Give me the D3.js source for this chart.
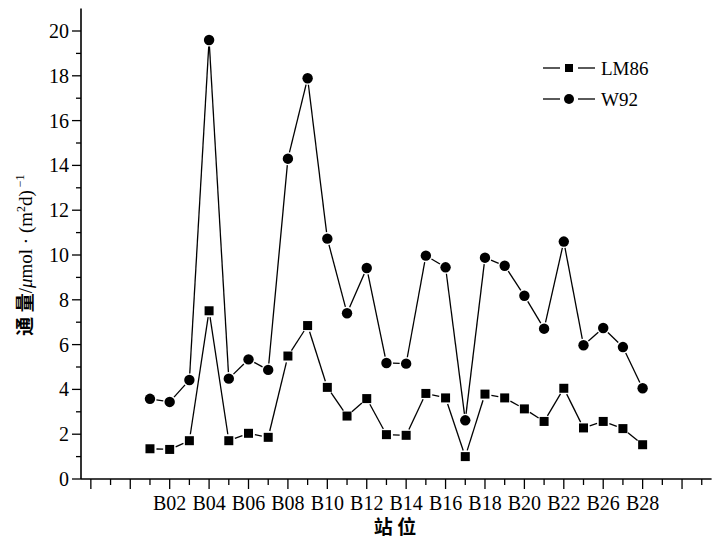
<!DOCTYPE html>
<html>
<head>
<meta charset="utf-8">
<script src="https://cdn.jsdelivr.net/npm/d3@7"></script>
<style>
  body { margin: 0; background: #fff; }
</style>
</head>
<body>
<div id="chart"></div>
<script>
// stations (B23/B24 missing in the survey)
var stations = ["B01","B02","B03","B04","B05","B06","B07","B08","B09","B10","B11","B12","B13",
  "B14","B15","B16","B17","B18","B19","B20","B21","B22","B25","B26","B27","B28"];
var lm86 = [1.35,1.32,1.71,7.51,1.71,2.04,1.86,5.49,6.85,4.09,2.81,3.59,1.98,
  1.95,3.82,3.62,1.00,3.79,3.62,3.13,2.57,4.05,2.28,2.57,2.25,1.53];
var w92 = [3.58,3.44,4.42,19.6,4.48,5.34,4.87,14.3,17.89,10.73,7.40,9.42,5.18,
  5.15,9.97,9.45,2.62,9.88,9.52,8.18,6.71,10.6,5.97,6.74,5.89,4.05];
var xLabels = ["B02","B04","B06","B08","B10","B12","B14","B16","B18","B20","B22","B26","B28"];
var yTicks = [0,2,4,6,8,10,12,14,16,18,20];

var W = 715, H = 539;
var slotOffset = 3, nSlots = 32;
var serif = "Liberation Serif, Tinos, Times New Roman, DejaVu Serif, Noto Serif, serif";
var cjk = "Noto Sans CJK SC, Noto Sans CJK JP, sans-serif";

var svg = d3.select("#chart").append("svg")
  .attr("width", W).attr("height", H)
  .attr("font-family", serif);

var x = d3.scaleLinear().domain([-0.5, nSlots - 0.5]).range([81, 711.6]);
var y = d3.scaleLinear().domain([0, 21]).range([479, 8.6]);

var slotOf = function (name) { return stations.indexOf(name) + slotOffset; };

// x axis (all slots get ticks, labelled ones long)
var gx = svg.append("g").attr("transform", "translate(0," + y(0) + ")");
gx.append("line").attr("x1", x.range()[0]).attr("x2", x.range()[1])
  .attr("stroke", "#000").attr("stroke-width", 1.6);
gx.selectAll(".xt").data(d3.range(nSlots)).enter().append("line")
  .attr("x1", d => x(d)).attr("x2", d => x(d))
  .attr("y1", 0).attr("y2", d => d % 2 === 0 ? 10 : 6)
  .attr("stroke", "#000").attr("stroke-width", 1.3);
gx.selectAll(".xl").data(xLabels).enter().append("text")
  .attr("x", d => x(slotOf(d))).attr("y", 31)
  .attr("text-anchor", "middle").attr("font-size", 20)
  .attr("font-family", serif).text(d => d);

// y axis
var gy = svg.append("g").attr("transform", "translate(" + x.range()[0] + ",0)");
gy.append("line").attr("y1", y(0)).attr("y2", y.range()[1])
  .attr("stroke", "#000").attr("stroke-width", 1.6);
gy.selectAll(".ym").data(d3.range(1, 21, 2)).enter().append("line")
  .attr("x1", -5).attr("x2", 0).attr("y1", d => y(d)).attr("y2", d => y(d))
  .attr("stroke", "#000").attr("stroke-width", 1.3);
gy.selectAll(".yt").data(yTicks).enter().append("line")
  .attr("x1", -9).attr("x2", 0).attr("y1", d => y(d)).attr("y2", d => y(d))
  .attr("stroke", "#000").attr("stroke-width", 1.3);
gy.selectAll(".yl").data(yTicks).enter().append("text")
  .attr("x", -12).attr("y", d => y(d)).attr("dy", "0.35em")
  .attr("text-anchor", "end").attr("font-size", 20)
  .attr("font-family", serif).text(d => d);

// axis titles
svg.append("text").attr("x", 395).attr("y", 534)
  .attr("text-anchor", "middle").attr("font-size", 19).attr("font-weight", "bold")
  .attr("font-family", cjk).text("站 位");

var yt = svg.append("text")
  .attr("transform", "translate(32,255) rotate(-90)")
  .attr("text-anchor", "middle").attr("font-size", 19)
  .attr("font-family", serif);
yt.append("tspan").attr("font-weight", "bold")
  .attr("font-family", cjk).text("通 量");
yt.append("tspan").text("/");
yt.append("tspan").attr("font-style", "italic").text("μ");
yt.append("tspan").text("mol · (m");
yt.append("tspan").attr("font-size", 12).attr("dy", -7).text("2");
yt.append("tspan").attr("dy", 7).text("d)");
yt.append("tspan").attr("font-size", 12).attr("dy", -8).text(" −1");

// series with gaps between line and markers
function drawSeries(vals, shape) {
  var pts = vals.map((v, i) => [x(i + slotOffset), y(v)]);
  var gap = 6.5;
  var segs = d3.pairs(pts).map(function (p) {
    var dx = p[1][0] - p[0][0], dy = p[1][1] - p[0][1];
    var L = Math.sqrt(dx * dx + dy * dy);
    var ux = dx / L, uy = dy / L;
    return [p[0][0] + ux * gap, p[0][1] + uy * gap, p[1][0] - ux * gap, p[1][1] - uy * gap];
  });
  svg.append("g").selectAll("line").data(segs).enter().append("line")
    .attr("x1", d => d[0]).attr("y1", d => d[1]).attr("x2", d => d[2]).attr("y2", d => d[3])
    .attr("stroke", "#000").attr("stroke-width", 1.3);
  var g = svg.append("g");
  if (shape === "square") {
    g.selectAll("rect").data(pts).enter().append("rect")
      .attr("x", d => d[0] - 4.5).attr("y", d => d[1] - 4.5)
      .attr("width", 9).attr("height", 9).attr("fill", "#000");
  } else {
    g.selectAll("circle").data(pts).enter().append("circle")
      .attr("cx", d => d[0]).attr("cy", d => d[1]).attr("r", 5.2).attr("fill", "#000");
  }
}
drawSeries(lm86, "square");
drawSeries(w92, "circle");

// legend
var legend = [{name: "LM86", shape: "square"}, {name: "W92", shape: "circle"}];
var lg = svg.append("g").selectAll("g").data(legend).enter().append("g")
  .attr("transform", (d, i) => "translate(543," + (68 + i * 31) + ")");
lg.append("line").attr("x1", 0).attr("x2", 17).attr("stroke", "#000").attr("stroke-width", 1.3);
lg.append("line").attr("x1", 35).attr("x2", 52).attr("stroke", "#000").attr("stroke-width", 1.3);
lg.filter(d => d.shape === "square").append("rect")
  .attr("x", 22).attr("y", -4).attr("width", 8).attr("height", 8).attr("fill", "#000");
lg.filter(d => d.shape === "circle").append("circle")
  .attr("cx", 26).attr("cy", 0).attr("r", 5).attr("fill", "#000");
lg.append("text").attr("x", 58).attr("dy", "0.35em").attr("font-size", 19)
  .attr("font-family", serif).text(d => d.name);
</script>
</body>
</html>
